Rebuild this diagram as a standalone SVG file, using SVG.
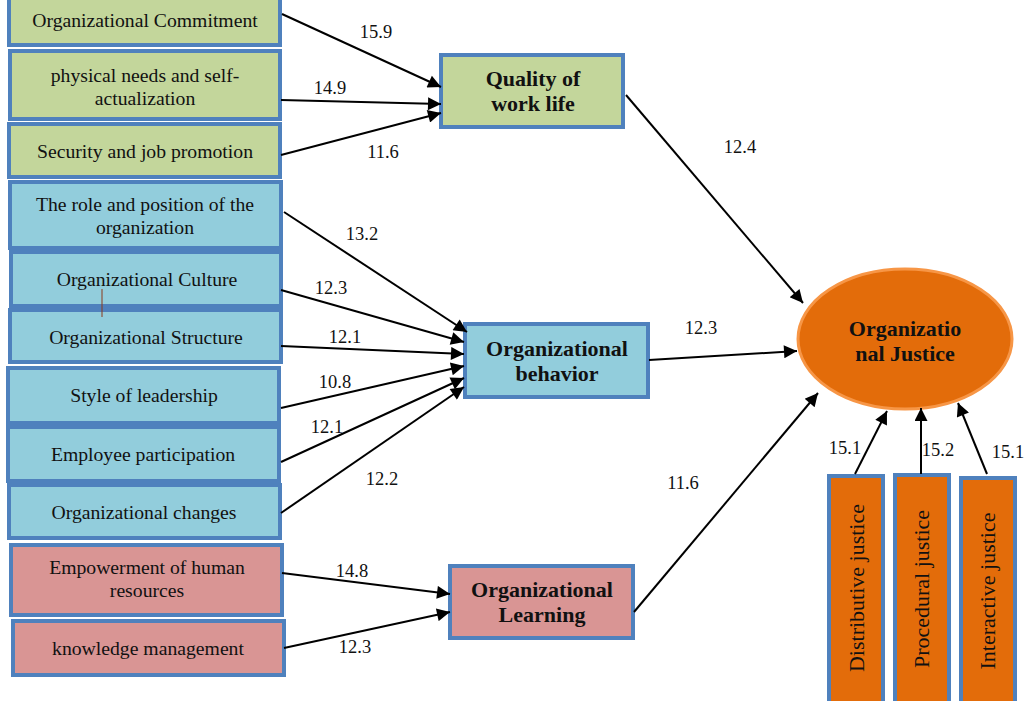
<svg xmlns="http://www.w3.org/2000/svg" width="1027" height="701" viewBox="0 0 1027 701">
<defs>
<style>
.box{stroke:#4F81BD;stroke-width:4}
.g{fill:#C3D69B}.b{fill:#92CDDC}.p{fill:#D99594}.o{fill:#E36C0A}
.t{font-family:"Liberation Serif",serif;font-size:19.7px;fill:#111;text-anchor:middle}
.h{font-family:"Liberation Serif",serif;font-size:22px;font-weight:bold;fill:#111;text-anchor:middle}
.v{font-family:"Liberation Serif",serif;font-size:22px;fill:#111;text-anchor:middle}
.l{font-family:"Liberation Serif",serif;font-size:18.5px;fill:#111;text-anchor:middle}
.c{stroke:#000;stroke-width:2;fill:none;marker-end:url(#ah)}
</style>
<marker id="ah" viewBox="0 0 10 10" refX="10" refY="5" markerWidth="7.5" markerHeight="6.5" orient="auto" markerUnits="strokeWidth">
<path d="M0,0 L10,5 L0,10 Z" fill="#000"/>
</marker>
</defs>
<rect width="1027" height="701" fill="#fff"/>

<g id="n-commitment"><rect class="box g" x="9" y="-4" width="271" height="49"/><text class="t" x="145" y="27">Organizational Commitment</text></g>
<g id="n-physical"><rect class="box g" x="10" y="51" width="270" height="68"/><text class="t" x="145" y="82">physical needs and self-</text><text class="t" x="145" y="105">actualization</text></g>
<g id="n-security"><rect class="box g" x="9" y="124" width="271" height="53"/><text class="t" x="145" y="158">Security and job promotion</text></g>

<g id="n-role"><rect class="box b" x="10" y="182" width="271" height="66"/><text class="t" x="145" y="211">The role and position of the</text><text class="t" x="145" y="234">organization</text></g>
<g id="n-culture"><rect class="box b" x="11" y="252" width="270" height="54"/><text class="t" x="147" y="286">Organizational Culture</text></g>
<g id="n-structure"><rect class="box b" x="10" y="310" width="271" height="52"/><text class="t" x="146" y="344">Organizational Structure</text></g>
<g id="n-leadership"><rect class="box b" x="8" y="368" width="271" height="55"/><text class="t" x="144" y="402">Style of leadership</text></g>
<g id="n-participation"><rect class="box b" x="8" y="427" width="271" height="54"/><text class="t" x="143" y="461">Employee participation</text></g>
<g id="n-changes"><rect class="box b" x="9" y="485" width="271" height="53"/><text class="t" x="144" y="519">Organizational changes</text></g>

<g id="n-empowerment"><rect class="box p" x="11" y="545" width="271" height="70"/><text class="t" x="147" y="574">Empowerment of human</text><text class="t" x="147" y="597">resources</text></g>
<g id="n-knowledge"><rect class="box p" x="13" y="621" width="271" height="54"/><text class="t" x="148" y="655">knowledge management</text></g>

<line x1="102" y1="289" x2="102" y2="317" stroke="#8B3A1A" stroke-width="1"/>

<g id="n-qwl"><rect class="box g" x="441" y="55" width="182" height="72"/><text class="h" x="533" y="86">Quality of</text><text class="h" x="533" y="111">work life</text></g>
<g id="n-ob"><rect class="box b" x="465" y="324" width="183" height="73"/><text class="h" x="557" y="356">Organizational</text><text class="h" x="557" y="381">behavior</text></g>
<g id="n-ol"><rect class="box p" x="450" y="566" width="183" height="72"/><text class="h" x="542" y="597">Organizational</text><text class="h" x="542" y="622">Learning</text></g>

<g id="n-oj"><ellipse cx="905" cy="339" rx="107" ry="70" fill="#E36C0A" stroke="#F79646" stroke-width="3"/><text class="h" x="905" y="336">Organizatio</text><text class="h" x="905" y="361">nal Justice</text></g>

<g id="n-distributive"><rect class="box o" x="829" y="476" width="54" height="240"/><text class="v" transform="translate(864,588) rotate(-90)">Distributive justice</text></g>
<g id="n-procedural"><rect class="box o" x="895" y="475" width="54" height="240"/><text class="v" transform="translate(929,589) rotate(-90)">Procedural justice</text></g>
<g id="n-interactive"><rect class="box o" x="961" y="478" width="54" height="240"/><text class="v" transform="translate(995,591) rotate(-90)">Interactive justice</text></g>

<g id="connectors">
<line class="c" x1="282" y1="14" x2="441" y2="87"/>
<line class="c" x1="281" y1="100" x2="441" y2="104"/>
<line class="c" x1="281" y1="155" x2="441" y2="113"/>
<line class="c" x1="626" y1="95" x2="803" y2="303"/>
<line class="c" x1="284" y1="212" x2="467" y2="332"/>
<line class="c" x1="281" y1="290" x2="464" y2="342"/>
<line class="c" x1="281" y1="346" x2="464" y2="354"/>
<line class="c" x1="281" y1="408" x2="464" y2="366"/>
<line class="c" x1="281" y1="462" x2="464" y2="378"/>
<line class="c" x1="281" y1="513" x2="464" y2="387"/>
<line class="c" x1="649" y1="360" x2="797" y2="351"/>
<line class="c" x1="282" y1="573" x2="450" y2="594"/>
<line class="c" x1="284" y1="648" x2="450" y2="612"/>
<line class="c" x1="634" y1="612" x2="818" y2="393"/>
<line class="c" x1="855" y1="474" x2="887" y2="411"/>
<line class="c" x1="921" y1="474" x2="921" y2="408"/>
<line class="c" x1="987" y1="474" x2="958" y2="403"/>
</g>

<g id="labels">
<text class="l" x="376" y="38">15.9</text>
<text class="l" x="330" y="94">14.9</text>
<text class="l" x="383" y="158">11.6</text>
<text class="l" x="740" y="153">12.4</text>
<text class="l" x="362" y="240">13.2</text>
<text class="l" x="331" y="294">12.3</text>
<text class="l" x="345" y="343">12.1</text>
<text class="l" x="335" y="388">10.8</text>
<text class="l" x="327" y="433">12.1</text>
<text class="l" x="382" y="485">12.2</text>
<text class="l" x="701" y="334">12.3</text>
<text class="l" x="352" y="577">14.8</text>
<text class="l" x="355" y="653">12.3</text>
<text class="l" x="683" y="489">11.6</text>
<text class="l" x="845" y="454">15.1</text>
<text class="l" x="938" y="456">15.2</text>
<text class="l" x="1008" y="458">15.1</text>
</g>
</svg>
